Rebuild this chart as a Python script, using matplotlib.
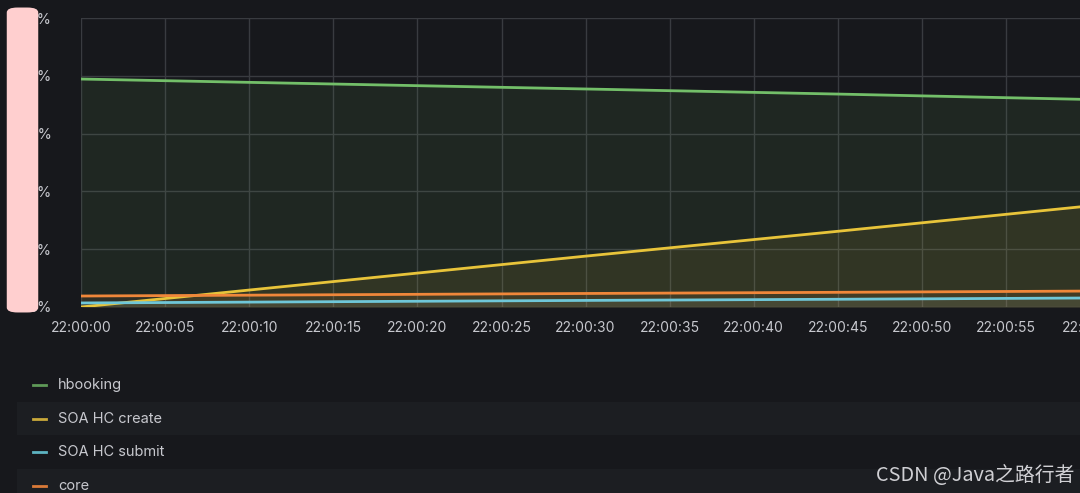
import matplotlib
matplotlib.use("Agg")
import matplotlib.pyplot as plt
from matplotlib.patches import FancyBboxPatch, Rectangle

# Sample times (seconds after 22:00:00) and series values (%)
times = [0, 15, 30, 45, 60]
hbooking = [19.72, 19.29, 18.86, 18.42, 17.95]
soa_create = [0.0, 2.2, 4.4, 6.55, 8.75]
soa_submit = [0.35, 0.46, 0.57, 0.67, 0.78]
core = [0.95, 1.06, 1.17, 1.27, 1.38]

series_names = ["hbooking", "SOA HC create", "SOA HC submit", "core"]
series_colors = ["#73bf69", "#e8c43a", "#6fc7d8", "#f0873a"]
legend_dash_colors = ["#5f9a58", "#c9a93a", "#5db3c2", "#d97a38"]

x_ticks = list(range(0, 65, 5))
x_tick_labels = [f"22:0{t // 60}:{t % 60:02d}" for t in x_ticks]
y_ticks = [0, 5, 10, 15, 20, 25]
y_tick_labels = [f"{v}%" for v in y_ticks]

BG = "#17181c"
GRID = "#393b40"
TEXT = "#c7c8ce"

W, H = 1080, 493
fig = plt.figure(figsize=(W / 100, H / 100), dpi=100, facecolor=BG)

# Plot area: 22:00:00 at x=81px, 84.1px per 5 s; extends past the right edge
left_px, right_px = 81, 1110
top_px, bottom_px = 18, 307
px_per_sec = 84.1 / 5
ax = fig.add_axes([left_px / W, 1 - bottom_px / H,
                   (right_px - left_px) / W, (bottom_px - top_px) / H])
ax.set_facecolor(BG)
ax.set_xlim(0, (right_px - left_px) / px_per_sec)
ax.set_ylim(0, 25)
for s in ax.spines.values():
    s.set_visible(False)

ax.set_xticks(x_ticks)
ax.set_xticklabels(x_tick_labels)
ax.set_yticks(y_ticks)
ax.set_yticklabels(y_tick_labels)
ax.tick_params(length=0, colors=TEXT, labelsize=10)
ax.tick_params(axis="x", pad=10)
ax.tick_params(axis="y", pad=21, labelsize=10.5)
for lab in ax.get_xticklabels() + ax.get_yticklabels():
    lab.set_fontfamily("Inter")
ax.grid(True, color=GRID, linewidth=1)
ax.set_axisbelow(True)

for vals, c in zip([hbooking, soa_create, soa_submit, core], series_colors):
    ax.fill_between(times, vals, 0, color=c, alpha=0.09, linewidth=0, zorder=2)
    ax.plot(times, vals, color=c, linewidth=2, zorder=3, solid_capstyle="butt")

# Legend rows
row_y = [385, 419, 452, 486]
for i, (name, c, y) in enumerate(zip(series_names, legend_dash_colors, row_y)):
    if i % 2 == 1:
        fig.add_artist(Rectangle((17 / W, 1 - (y + 16) / H), (W - 17) / W, 33 / H,
                                 transform=fig.transFigure, facecolor="#1c1e22",
                                 edgecolor="none", zorder=0))
    fig.add_artist(plt.Line2D([33 / W, 46 / W], [1 - y / H, 1 - y / H],
                              transform=fig.transFigure, color=c, linewidth=2))
    fig.text(58 / W, 1 - y / H, name, color=TEXT, fontsize=10.5,
             family="Inter", va="center", ha="left")

# Privacy mask over the y-axis labels
fig.add_artist(FancyBboxPatch((10 / W, 1 - 311 / H), 25 / W, 302 / H,
                              boxstyle="round,pad=0.003,rounding_size=0.01",
                              transform=fig.transFigure, facecolor="#ffcfcf",
                              edgecolor="none", zorder=10))

fig.text(1075 / W, 1 - 475 / H, "CSDN @Java之路行者", color="#d0d0d4",
         fontsize=14.3, ha="right", va="center",
         family=["Noto Sans CJK SC", "DejaVu Sans"])

fig.savefig("out.png", dpi=100, facecolor=BG)
